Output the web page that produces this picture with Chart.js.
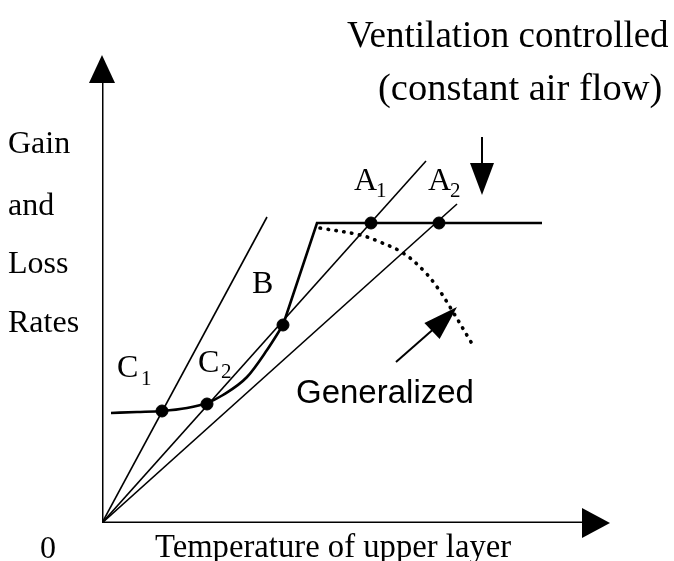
<!DOCTYPE html>
<html>
<head>
<meta charset="utf-8">
<script src="https://cdn.jsdelivr.net/npm/chart.js@4.4.1/dist/chart.umd.min.js"></script>
<style>
  html, body { margin: 0; padding: 0; background: #fff; }
  #chart { display: block; }
</style>
</head>
<body>
<canvas id="chart" width="674" height="561"></canvas>
<script>
// data units: origin at the axes corner, x to the right, y upwards
const rayC1 = [[0, 0], [165, 306]];
const rayA1 = [[0, 0], [324, 362]];
const rayA2 = [[0, 0], [355, 319]];
const curveLow = [[9, 110], [35, 111], [60, 112], [85, 115], [105, 120], [121, 128], [145, 146], [165, 173], [181, 198]];
const curveHigh = [[181, 198], [215, 300], [440, 300]];
const generalized = [[218, 295], [258, 288], [278, 281], [301, 270], [321, 253], [335, 236], [348, 216], [369, 181]];
const pointNames = ['C1', 'C2', 'B', 'A1', 'A2'];
const pointsX = [60, 105, 181, 269, 337];
const pointsY = [112, 119, 198, 300, 300];
const xAxisLine = [[0, 0], [484, 0]];
const yAxisLine = [[0, 0], [0, 443]];

// arrows: [from, to], head drawn at "to"
const arrows = [
  { from: [0, 440], to: [0, 468], half: 13 },
  { from: [480, 0], to: [508, 0], half: 15 },
  { from: [380, 360], to: [380, 328], half: 12 },
  { from: [330, 192], to: [355, 216], half: 11 }
];

const serif = (size) => size + 'px "Liberation Serif"';

const labels = [
  { text: 'Ventilation controlled', x: 245, y: 476, font: serif(37) },
  { text: '(constant air flow)', x: 276, y: 423, font: serif(38.5) },
  { text: 'Gain', x: -94, y: 370, font: serif(32) },
  { text: 'and', x: -94, y: 308, font: serif(32) },
  { text: 'Loss', x: -94, y: 250, font: serif(32) },
  { text: 'Rates', x: -94, y: 191, font: serif(32) },
  { text: 'A', x: 252, y: 333, font: serif(32) },
  { text: '1', x: 274, y: 326, font: serif(21) },
  { text: 'A', x: 326, y: 333, font: serif(32) },
  { text: '2', x: 348, y: 326, font: serif(21) },
  { text: 'B', x: 150, y: 230, font: serif(32) },
  { text: 'C', x: 15, y: 146, font: serif(32) },
  { text: '1', x: 39, y: 138, font: serif(21) },
  { text: 'C', x: 96, y: 151, font: serif(32) },
  { text: '2', x: 119, y: 145, font: serif(21) },
  { text: 'Generalized', x: 194, y: 120, font: '33px "Liberation Sans"' },
  { text: '0', x: -62, y: -35, font: serif(32) },
  { text: 'Temperature of upper layer', x: 53, y: -34, font: serif(32.7) }
];

const toXY = (arr) => arr.map(([x, y]) => ({ x, y }));

const lineSet = (data, width, extra = {}) => ({
  data: toXY(data),
  showLine: true,
  borderColor: '#000',
  borderWidth: width,
  pointRadius: 0,
  tension: 0,
  ...extra
});

const drawExtras = {
  id: 'drawExtras',
  afterDatasetsDraw(chart) {
    const { ctx, scales: { x, y } } = chart;
    ctx.save();
    ctx.fillStyle = '#000';
    ctx.strokeStyle = '#000';

    arrows.forEach((a) => {
      const x1 = x.getPixelForValue(a.from[0]);
      const y1 = y.getPixelForValue(a.from[1]);
      const x2 = x.getPixelForValue(a.to[0]);
      const y2 = y.getPixelForValue(a.to[1]);
      const len = Math.hypot(x2 - x1, y2 - y1);
      const ux = (x2 - x1) / len;
      const uy = (y2 - y1) / len;
      ctx.beginPath();
      ctx.moveTo(x2, y2);
      ctx.lineTo(x1 - uy * a.half, y1 + ux * a.half);
      ctx.lineTo(x1 + uy * a.half, y1 - ux * a.half);
      ctx.closePath();
      ctx.fill();
    });

    ctx.textBaseline = 'alphabetic';
    ctx.textAlign = 'left';
    labels.forEach((l) => {
      ctx.font = l.font;
      ctx.fillText(l.text, x.getPixelForValue(l.x), y.getPixelForValue(l.y));
    });
    ctx.restore();
  }
};

new Chart(document.getElementById('chart'), {
  type: 'scatter',
  data: {
    datasets: [
      lineSet(xAxisLine, 3),
      lineSet(yAxisLine, 3),
      lineSet([[380, 386], [380, 358]], 2),
      lineSet([[294, 161], [335, 197]], 2),
      lineSet(rayC1, 1.6),
      lineSet(rayA1, 1.6),
      lineSet(rayA2, 1.6),
      lineSet(curveLow, 2.6, { cubicInterpolationMode: 'monotone' }),
      lineSet(curveHigh, 2.6),
      lineSet(generalized, 3.6, { tension: 0.4, borderDash: [0.5, 7.5], borderCapStyle: 'round' }),
      {
        data: pointsX.map((px, i) => ({ x: px, y: pointsY[i], name: pointNames[i] })),
        showLine: false,
        pointRadius: 6,
        backgroundColor: '#000',
        borderColor: '#000'
      }
    ]
  },
  options: {
    responsive: false,
    animation: false,
    devicePixelRatio: 1,
    layout: { padding: { left: 102, right: 64, top: 55, bottom: 38 } },
    plugins: { legend: { display: false }, tooltip: { enabled: false } },
    scales: {
      x: { type: 'linear', min: 0, max: 508, display: false },
      y: { type: 'linear', min: 0, max: 468, display: false }
    }
  },
  plugins: [drawExtras]
});
</script>
</body>
</html>
